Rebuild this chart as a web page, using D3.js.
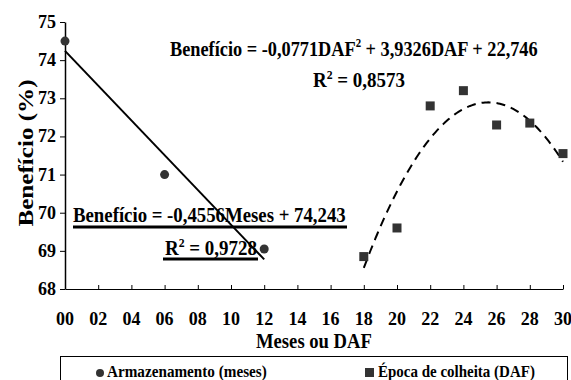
<!DOCTYPE html>
<html><head><meta charset="utf-8">
<script src="https://cdn.jsdelivr.net/npm/d3@7"></script>
<style>
body{margin:0;background:#fff;}
svg text{font-family:"Liberation Serif","Times New Roman","DejaVu Serif",serif !important;font-weight:bold;fill:#000;}
</style></head>
<body><svg id="c" width="571" height="380" font-family="Liberation Serif, DejaVu Serif, serif"></svg>
<script>
// Data
const armX = [0, 6, 12];
const armY = [74.5, 71.0, 69.05];
const epoX = [18, 20, 22, 24, 26, 28, 30];
const epoY = [68.85, 69.6, 72.8, 73.2, 72.3, 72.35, 71.55];
const linCoef = [-0.4556, 74.243];          // slope, intercept
const polyCoef = [-0.0771, 3.9326, 22.746]; // a, b, c
const xTicks = [0,2,4,6,8,10,12,14,16,18,20,22,24,26,28,30];
const xTickLabels = ["00","02","04","06","08","10","12","14","16","18","20","22","24","26","28","30"];
const yTicks = [68,69,70,71,72,73,74,75];
const seriesNames = ["Armazenamento (meses)", "Época de colheita (DAF)"];

const FONT = "'Liberation Serif', 'Times New Roman', 'DejaVu Serif', serif";
const svg = d3.select("#c");
const x = d3.scaleLinear().domain([0,30]).range([65,563]);
const y = d3.scaleLinear().domain([68,75]).range([289,22]);
function T(sel){ return sel.attr("font-family",FONT).attr("font-weight","bold"); }

// text fitted horizontally to a target width (left edge, baseline)
function fitted(left, base, width, size, parts){
  const t = T(svg.append("text")).attr("x",0).attr("y",0).attr("font-size",size);
  parts.forEach(p=>{
    const s = t.append("tspan").text(p.t);
    if(p.sup) s.attr("dy",-Math.round(size*0.4)).attr("font-size",Math.round(size*0.6));
    else if(p.after) s.attr("dy",Math.round(size*0.4));
  });
  const w = t.node().getBBox().width;
  t.attr("transform",`translate(${left},${base}) scale(${width/w},1)`);
  return t;
}

// axes
const xAxis = d3.axisBottom(x).tickValues(xTicks).tickSizeInner(-4).tickSizeOuter(0).tickFormat("");
const gx = svg.append("g").attr("transform","translate(0,289)").call(xAxis);
gx.select(".domain").attr("stroke","#000").attr("stroke-width",1);
gx.selectAll(".tick line").attr("stroke","#000");
T(svg.append("g").selectAll("text").data(xTicks).join("text"))
  .attr("x",d=>x(d)).attr("y",325).attr("text-anchor","middle")
  .attr("font-size",18).text((d,i)=>xTickLabels[i]);

const yAxis = d3.axisLeft(y).tickValues(yTicks).tickSizeInner(5).tickSizeOuter(0).tickFormat("");
const gy = svg.append("g").attr("transform","translate(65,0)").call(yAxis);
gy.select(".domain").attr("stroke","#000").attr("stroke-width",1.5);
gy.selectAll(".tick line").attr("stroke","#000");
T(svg.append("g").selectAll("text").data(yTicks).join("text"))
  .attr("x",56).attr("y",d=>y(d)+6).attr("text-anchor","end")
  .attr("font-size",18).text(d=>d);

// axis titles
fitted(256, 348, 116, 21, [{t:"Meses ou DAF"}]);
T(svg.append("text")).attr("transform","translate(33,153) rotate(-90)").attr("text-anchor","middle")
  .attr("font-size",22).attr("textLength",147).attr("lengthAdjust","spacingAndGlyphs").text("Benefício (%)");

// linear trendline
const linLine = d3.line().x(d=>x(d)).y(d=>y(linCoef[0]*d+linCoef[1]));
svg.append("path").datum([armX[0], armX[armX.length-1]]).attr("d",linLine)
  .attr("fill","none").attr("stroke","#000").attr("stroke-width",2);

// polynomial trendline
const px = d3.range(epoX[0], epoX[epoX.length-1]+0.001, 0.1);
const polyLine = d3.line().x(d=>x(d)).y(d=>y(polyCoef[0]*d*d+polyCoef[1]*d+polyCoef[2]));
svg.append("path").datum(px).attr("d",polyLine)
  .attr("fill","none").attr("stroke","#000").attr("stroke-width",2).attr("stroke-dasharray","9,6");

// points
svg.append("g").selectAll("circle").data(armX).join("circle")
  .attr("cx",d=>x(d)).attr("cy",(d,i)=>y(armY[i])).attr("r",4.5).attr("fill","#333");
svg.append("g").selectAll("rect").data(epoX).join("rect")
  .attr("x",d=>x(d)-4.5).attr("y",(d,i)=>y(epoY[i])-4.5).attr("width",9).attr("height",9).attr("fill","#333");

// polynomial equation
fitted(170, 56, 368, 22, [{t:"Benefício = -0,0771DAF"},{t:"2",sup:true},{t:" + 3,9326DAF + 22,746",after:true}]);
fitted(313, 87, 92, 21, [{t:"R"},{t:"2",sup:true},{t:" = 0,8573",after:true}]);

// linear equation (underlined)
fitted(73, 222, 273, 21, [{t:"Benefício = -0,4556Meses + 74,243"}]);
svg.append("line").attr("x1",73).attr("x2",347).attr("y1",227).attr("y2",227).attr("stroke","#000").attr("stroke-width",3);
fitted(165, 255, 92, 21, [{t:"R"},{t:"2",sup:true},{t:" = 0,9728",after:true}]);
svg.append("line").attr("x1",163).attr("x2",258).attr("y1",259).attr("y2",259).attr("stroke","#000").attr("stroke-width",3);

// legend
svg.append("rect").attr("x",60.5).attr("y",356.5).attr("width",507).attr("height",40)
  .attr("fill","none").attr("stroke","#000").attr("stroke-width",1);
svg.append("circle").attr("cx",100).attr("cy",373).attr("r",4).attr("fill","#333");
fitted(107, 377, 160, 17, [{t:seriesNames[0]}]);
svg.append("rect").attr("x",365).attr("y",368).attr("width",9).attr("height",9).attr("fill","#333");
fitted(378, 377, 157, 17, [{t:seriesNames[1]}]);
</script></body></html>
